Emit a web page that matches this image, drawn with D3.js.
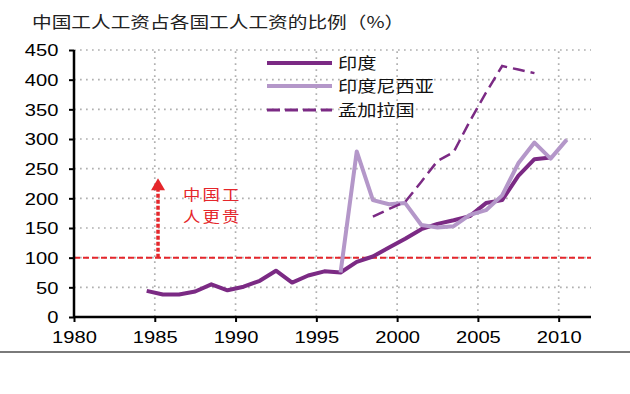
<!DOCTYPE html>
<html><head><meta charset="utf-8">
<script src="https://cdn.jsdelivr.net/npm/d3@7"></script>
<style>
body{margin:0;background:#fff}
svg{display:block}
text{font-family: Arial, "Liberation Sans", "Noto Sans CJK SC", sans-serif}
</style>
</head><body><svg id="c" width="630" height="394"></svg>
<script>
// ---------- data ----------
const title = "中国工人工资占各国工人工资的比例（%）";
const seriesNames = ["印度", "印度尼西亚", "孟加拉国"];
const indiaYears = [1984,1985,1986,1987,1988,1989,1990,1991,1992,1993,1994,1995,1996,1997,1998,1999,2000,2001,2002,2003,2004,2005,2006,2007,2008,2009];
const indiaValues = [44,38,38,43,55,45,51,61,78,58,70,77,75,93,102,117,132,148,157,163,170,192,197,238,266,269];
const indonesiaYears = [1996,1997,1998,1999,2000,2001,2002,2003,2004,2005,2006,2007,2008,2009,2010];
const indonesiaValues = [75,279,197,190,192,155,151,153,172,180,205,259,294,267,299];
const bangladeshYears = [1998,1999,2000,2001,2002,2003,2004,2005,2006,2007,2008];
const bangladeshValues = [169,182,194,228,263,278,330,378,423,417,411];
const yTicks = [0,50,100,150,200,250,300,350,400,450];
const xTicks = [1980,1985,1990,1995,2000,2005,2010];
const baselineValue = 100;
const annotationLines = ["中国工", "人更贵"];
const arrowYear = 1985.2, arrowFrom = 100, arrowTo = 234;

// ---------- layout ----------
const svg = d3.select("#c");
const x = d3.scaleLinear().domain([1980, 2012]).range([74, 591]);
const y = d3.scaleLinear().domain([0, 450]).range([317, 50]);
const SX = 1.2; // horizontal stretch of the reference text
const purple = "#7b2a84", lilac = "#b497c9", red = "#e5262b";
const mid = yr => x(yr + 0.5);

function stretchedText(g, tx, ty, str, opts) {
  return g.append("text")
    .attr("transform", `translate(${tx},${ty}) scale(${opts.sx || SX},1)`)
    .attr("text-anchor", opts.anchor || "start")
    .attr("font-size", opts.size)
    .attr("fill", opts.fill || "#111")
    .attr("letter-spacing", opts.ls || 0)
    .style("font-family", opts.family || null)
    .text(str);
}

// grid
const grid = svg.append("g");
grid.selectAll("line.h").data(yTicks.filter(d => d > 0)).join("line")
  .attr("x1", x(1980)).attr("x2", x(2012))
  .attr("y1", d => y(d)).attr("y2", d => y(d))
  .attr("stroke", "#b0b0b0").attr("stroke-width", 1.7).attr("stroke-dasharray", "1.7,4.3");
grid.selectAll("line.v").data(xTicks.filter(d => d > 1980)).join("line")
  .attr("x1", d => x(d)).attr("x2", d => x(d))
  .attr("y1", y(0)).attr("y2", y(450))
  .attr("stroke", "#b0b0b0").attr("stroke-width", 1.7).attr("stroke-dasharray", "1.7,4.3");

// baseline 100 red dashed
svg.append("line")
  .attr("x1", x(1980)).attr("x2", x(2012))
  .attr("y1", y(baselineValue)).attr("y2", y(baselineValue))
  .attr("stroke", red).attr("stroke-width", 2).attr("stroke-dasharray", "6,3");

// arrow
svg.append("line")
  .attr("x1", x(arrowYear)).attr("x2", x(arrowYear))
  .attr("y1", y(arrowFrom)).attr("y2", y(arrowTo) + 10)
  .attr("stroke", red).attr("stroke-width", 3.5).attr("stroke-dasharray", "4,2");
svg.append("path")
  .attr("d", `M${x(arrowYear)},${y(arrowTo)} l7,12 l-14,0 z`)
  .attr("fill", red);
const ann = svg.append("g");
annotationLines.forEach((t, i) => {
  stretchedText(ann, 183, 200 + i * 21.5, t, {size: 14.5, fill: red, ls: 1.8, family: "'Noto Sans CJK SC'"});
});

// lines
const line = d3.line().x(d => mid(d[0])).y(d => y(d[1]));
const zip = (a, b) => a.map((v, i) => [v, b[i]]);
svg.append("path").datum(zip(indiaYears, indiaValues))
  .attr("d", line).attr("fill", "none").attr("stroke", purple).attr("stroke-width", 4).attr("stroke-linejoin", "round");
svg.append("path").datum(zip(indonesiaYears, indonesiaValues))
  .attr("d", line).attr("fill", "none").attr("stroke", lilac).attr("stroke-width", 4).attr("stroke-linejoin", "round");
svg.append("path").datum(zip(bangladeshYears, bangladeshValues))
  .attr("d", line).attr("fill", "none").attr("stroke", purple).attr("stroke-width", 2.5).attr("stroke-dasharray", "12,6");

// axes
const yAxis = svg.append("g").attr("transform", `translate(${x(1980)},0)`)
  .call(d3.axisLeft(y).tickValues(yTicks).tickSize(5).tickFormat(d3.format("d")));
const xAxis = svg.append("g").attr("transform", `translate(0,${y(0)})`)
  .call(d3.axisBottom(x).tickValues(xTicks).tickSize(5).tickFormat(d3.format("d")));
[yAxis, xAxis].forEach(a => {
  a.select(".domain").attr("stroke", "#000").attr("stroke-width", 2.5);
  a.selectAll(".tick line").attr("stroke", "#000").attr("stroke-width", 2);
  a.selectAll(".tick text").attr("font-size", 16.8).attr("fill", "#000")
    .style("font-family", "Arial, 'Liberation Sans', sans-serif");
});
yAxis.select(".domain").attr("d", `M0,${y(0)}V${y(450)}`);
xAxis.select(".domain").attr("d", `M${x(1980)},0H${x(2012)}`);
yAxis.selectAll(".tick text").attr("x", -13).attr("dy", "0.35em").attr("transform", `scale(${SX},1)`);
xAxis.selectAll(".tick text").attr("y", 26).attr("dy", 0).attr("transform", `scale(${SX},1)`);

// title
stretchedText(svg, 32, 28, title, {size: 16.4, fill: "#222", family: "'Noto Sans CJK SC'"});

// legend
const legend = svg.append("g");
const legendRows = [
  {name: seriesNames[0], color: purple, w: 4, dash: null, yy: 63},
  {name: seriesNames[1], color: lilac, w: 4, dash: null, yy: 86},
  {name: seriesNames[2], color: purple, w: 3, dash: "13,5", yy: 110}
];
legendRows.forEach(r => {
  legend.append("line").attr("x1", 267).attr("x2", 332).attr("y1", r.yy).attr("y2", r.yy)
    .attr("stroke", r.color).attr("stroke-width", r.w).attr("stroke-dasharray", r.dash);
  stretchedText(legend, 338, r.yy + 6, r.name, {size: 16, fill: "#111", family: "'Noto Sans CJK SC'"});
});

// bottom rule
svg.append("line").attr("x1", 0).attr("x2", 630).attr("y1", 352).attr("y2", 352)
  .attr("stroke", "#7a7a7a").attr("stroke-width", 1.8);
</script>
</body></html>
